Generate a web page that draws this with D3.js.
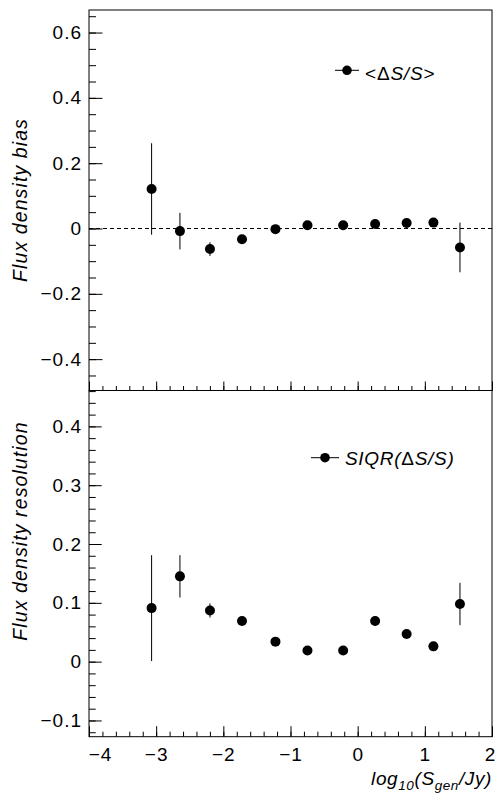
<!DOCTYPE html>
<html>
<head>
<meta charset="utf-8">
<script src="https://cdn.jsdelivr.net/npm/d3@7"></script>
<style>
  html, body { margin: 0; padding: 0; background: #fff; }
  svg { display: block; font-family: "Liberation Sans", Arial, Helvetica, sans-serif; }
  .tick text { font-size: 19px; letter-spacing: 1px; fill: #000; }
  .tick line { stroke: #000; }
</style>
</head>
<body>
<div id="chart"></div>
<script>
// log10(S_gen / Jy) bin centres
const logS = [-3.068, -2.646, -2.199, -1.722, -1.224, -0.747, -0.216, 0.260, 0.729, 1.128, 1.523];

// top panel: mean relative bias <dS/S>
const bias    = [0.121, -0.008, -0.063, -0.033, -0.002, 0.010, 0.010, 0.014, 0.017, 0.018, -0.058];
const biasErr = [0.140, 0.056, 0.021, 0.006, 0.004, 0.004, 0.004, 0.004, 0.004, 0.004, 0.076];

// bottom panel: SIQR(dS/S)
const resol    = [0.091, 0.145, 0.087, 0.069, 0.034, 0.019, 0.019, 0.069, 0.047, 0.026, 0.098];
const resolErr = [0.090, 0.036, 0.012, 0.004, 0.003, 0.003, 0.003, 0.008, 0.004, 0.003, 0.036];

const xTicks = [-4, -3, -2, -1, 0, 1, 2];
const biasTicks = [-0.4, -0.2, 0, 0.2, 0.4, 0.6];
const resolTicks = [-0.1, 0, 0.1, 0.2, 0.3, 0.4];

const width = 496;
const height = 794;
const left = 89, right = 492;
const top1 = 10, mid = 390.5, bottom2 = 736.7;

const svg = d3.select('#chart').append('svg')
  .attr('width', width)
  .attr('height', height);

const xScale = d3.scaleLinear().domain([-4, 2]).range([left, right]);
const yBias = d3.scaleLinear().domain([-0.496, 0.669]).range([mid, top1]);
const yRes = d3.scaleLinear().domain([-0.1276, 0.461]).range([bottom2, mid]);

const fmt = (d) => (Math.abs(d) < 1e-9 ? '0' : d3.format('.1f')(d));

function minorTicks(lo, hi, step) {
  const out = [];
  for (let v = Math.ceil(lo / step - 1e-6); v * step <= hi + 1e-9; v++) out.push(+(v * step).toFixed(4));
  return out;
}

function drawYAxis(scale, majors, minorStep, majLen, minLen) {
  const [lo, hi] = scale.domain();
  svg.append('g')
    .attr('transform', `translate(${left},0)`)
    .call(d3.axisLeft(scale).tickValues(minorTicks(lo, hi, minorStep)).tickSize(-minLen).tickSizeOuter(0).tickFormat(''))
    .call((g) => g.select('.domain').remove());
  svg.append('g')
    .attr('transform', `translate(${left},0)`)
    .call(d3.axisLeft(scale).tickValues(majors).tickSize(-majLen).tickSizeOuter(0).tickPadding(7).tickFormat(fmt))
    .call((g) => g.select('.domain').remove());
}

function drawXAxis(y, majLen, minLen, labels) {
  svg.append('g')
    .attr('transform', `translate(0,${y})`)
    .call(d3.axisBottom(xScale).tickValues(minorTicks(-4, 2, 0.2)).tickSize(-minLen).tickSizeOuter(0).tickFormat(''))
    .call((g) => g.select('.domain').remove());
  const g = svg.append('g')
    .attr('transform', `translate(0,${y})`)
    .call(d3.axisBottom(xScale).tickValues(xTicks).tickSize(-majLen).tickSizeOuter(0).tickPadding(11)
      .tickFormat(labels ? d3.format('d') : ''))
    .call((g) => g.select('.domain').remove());
  // end labels are pushed inside the frame
  g.selectAll('.tick text').filter((d) => d === -4).attr('x', 11);
  g.selectAll('.tick text').filter((d) => d === 2).attr('x', -2);
}

function drawPoints(scale, vals, errs) {
  const pts = logS.map((x, i) => ({ x, y: vals[i], e: errs[i] }));
  const g = svg.append('g');
  g.selectAll('line')
    .data(pts)
    .join('line')
    .attr('x1', (d) => xScale(d.x))
    .attr('x2', (d) => xScale(d.x))
    .attr('y1', (d) => scale(d.y + d.e))
    .attr('y2', (d) => scale(d.y - d.e))
    .attr('stroke', '#000')
    .attr('stroke-width', 1);
  g.selectAll('circle')
    .data(pts)
    .join('circle')
    .attr('cx', (d) => xScale(d.x))
    .attr('cy', (d) => scale(d.y))
    .attr('r', 5)
    .attr('fill', '#000');
}

function legendMark(x1, x2, y) {
  svg.append('line').attr('x1', x1).attr('x2', x2).attr('y1', y).attr('y2', y)
    .attr('stroke', '#000').attr('stroke-width', 1);
  svg.append('circle').attr('cx', (x1 + x2) / 2).attr('cy', y).attr('r', 4.8).attr('fill', '#000');
}

// --- top panel ---
svg.append('rect')
  .attr('x', left).attr('y', top1)
  .attr('width', right - left).attr('height', mid - top1)
  .attr('fill', 'none').attr('stroke', '#000').attr('stroke-width', 1);

svg.append('line')
  .attr('x1', left).attr('x2', right)
  .attr('y1', yBias(0)).attr('y2', yBias(0))
  .attr('stroke', '#000').attr('stroke-width', 1)
  .attr('stroke-dasharray', '4,3');

drawYAxis(yBias, biasTicks, 0.05, 13.5, 7);
drawXAxis(mid, 9, 4.5, false);
drawPoints(yBias, bias, biasErr);

legendMark(335, 359, 70.3);
const leg1 = svg.append('text').attr('x', 365).attr('y', 80)
  .attr('font-size', 19).attr('letter-spacing', 0.8);
leg1.append('tspan').text('<\u0394');
leg1.append('tspan').attr('font-style', 'italic').text('S/S');
leg1.append('tspan').text('>');

svg.append('text')
  .attr('transform', `translate(27,200) rotate(-90)`)
  .attr('text-anchor', 'middle')
  .attr('font-size', 19.5).attr('font-style', 'italic').attr('letter-spacing', 1.1)
  .text('Flux density bias');

// --- bottom panel ---
svg.append('rect')
  .attr('x', left).attr('y', mid)
  .attr('width', right - left).attr('height', bottom2 - mid)
  .attr('fill', 'none').attr('stroke', '#000').attr('stroke-width', 1);

drawYAxis(yRes, resolTicks, 0.02, 12.7, 6.7);
drawXAxis(bottom2, 10.5, 5, true);
drawPoints(yRes, resol, resolErr);

legendMark(311, 339, 457.7);
const leg2 = svg.append('text').attr('x', 345).attr('y', 465)
  .attr('font-size', 19).attr('letter-spacing', 0.7).attr('font-style', 'italic');
leg2.append('tspan').text('SIQR(');
leg2.append('tspan').attr('font-style', 'normal').text('\u0394');
leg2.append('tspan').text('S/S)');

svg.append('text')
  .attr('transform', `translate(27,531) rotate(-90)`)
  .attr('text-anchor', 'middle')
  .attr('font-size', 19.5).attr('font-style', 'italic').attr('letter-spacing', 1.1)
  .text('Flux density resolution');

// x title
const xt = svg.append('text').attr('x', right).attr('y', 785)
  .attr('text-anchor', 'end').attr('font-size', 19).attr('font-style', 'italic')
  .attr('letter-spacing', 0.6);
xt.append('tspan').text('log');
xt.append('tspan').attr('font-size', 13.5).attr('dy', 5).text('10');
xt.append('tspan').attr('dy', -5).text('(S');
xt.append('tspan').attr('font-size', 13.5).attr('dy', 5).text('gen');
xt.append('tspan').attr('dy', -5).text('/Jy)');
</script>
</body>
</html>
